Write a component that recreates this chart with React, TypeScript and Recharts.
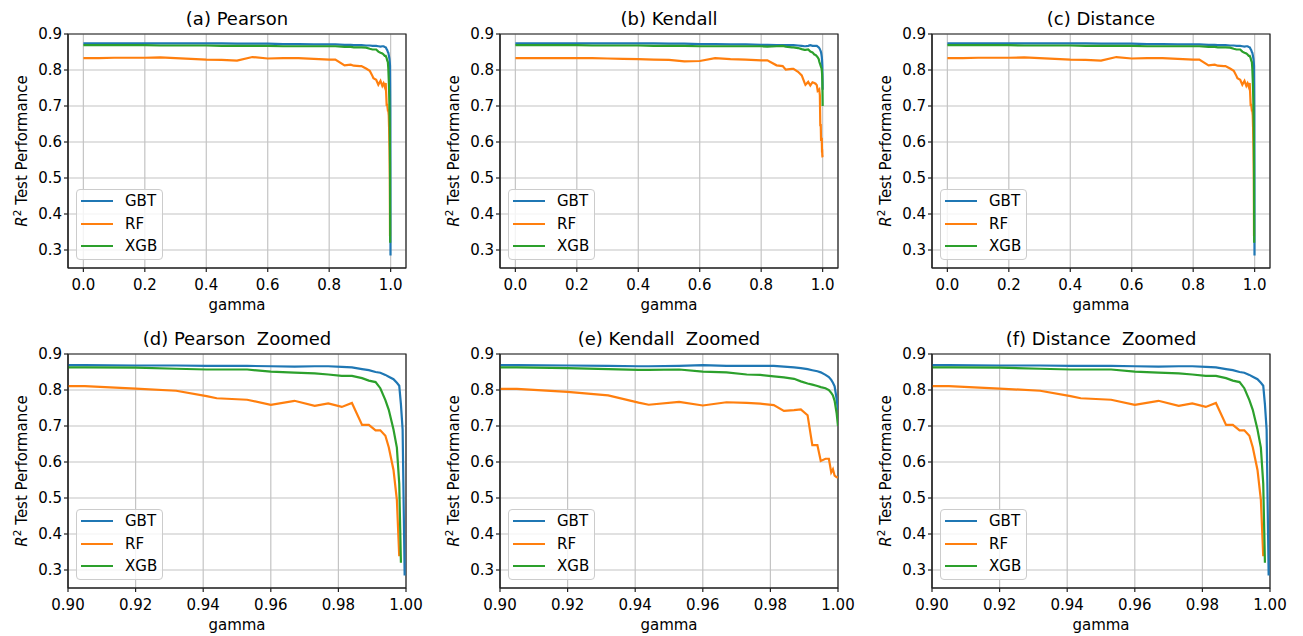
import React from 'react'
import { LineChart, Line, XAxis, YAxis, CartesianGrid, Legend, Label, ReferenceArea } from 'recharts'

// shared gamma grid (dense towards 1.0)
const gamma = [
  0, 0.05, 0.1, 0.15, 0.2, 0.25, 0.3, 0.35, 0.4, 0.45, 0.5, 0.55, 0.6, 0.65, 0.7, 0.75, 0.8,
  0.82, 0.85, 0.87, 0.88,
  0.9, 0.905, 0.92, 0.932, 0.941, 0.944, 0.953, 0.96, 0.967, 0.973, 0.977, 0.981, 0.984, 0.987, 0.989, 0.991,
  0.9924, 0.9939, 0.9949, 0.9963, 0.9973, 0.998, 0.9985, 0.999, 0.9996, 1.0,
]

const pearsonGBT = [
  0.874, 0.874, 0.874, 0.874, 0.874, 0.874, 0.874, 0.874, 0.874, 0.874, 0.873, 0.873, 0.873, 0.872, 0.872, 0.871, 0.871,
  0.871, 0.870, 0.870, 0.869,
  0.869, 0.869, 0.868, 0.868, 0.867, 0.867, 0.867, 0.866, 0.865, 0.866, 0.866, 0.864, 0.863, 0.858, 0.855, 0.850,
  0.848, 0.842, 0.837, 0.830, 0.820, 0.812, 0.760, 0.690, 0.285, null,
]
const pearsonRF = [
  0.833, 0.833, 0.834, 0.834, 0.834, 0.835, 0.833, 0.831, 0.829, 0.828, 0.826, 0.836, 0.832, 0.833, 0.833, 0.831, 0.829,
  0.829, 0.813, 0.815, 0.812,
  0.811, 0.811, 0.804, 0.798, 0.783, 0.777, 0.773, 0.759, 0.770, 0.756, 0.763, 0.753, 0.764, 0.703, 0.703, 0.688,
  0.688, 0.673, 0.641, 0.578, 0.495, 0.338, null, null, null, null,
]
const pearsonXGB = [
  0.869, 0.869, 0.869, 0.869, 0.869, 0.868, 0.868, 0.868, 0.868, 0.867, 0.867, 0.867, 0.867, 0.866, 0.866, 0.866, 0.866,
  0.866, 0.864, 0.864, 0.863,
  0.863, 0.863, 0.862, 0.859, 0.857, 0.857, 0.857, 0.851, 0.848, 0.846, 0.843, 0.839, 0.839, 0.833, 0.826, 0.822,
  0.805, 0.772, 0.745, 0.690, 0.640, 0.540, 0.320, null, null, null,
]

const kendallGBT = [
  0.874, 0.874, 0.874, 0.874, 0.874, 0.874, 0.874, 0.874, 0.874, 0.874, 0.873, 0.873, 0.872, 0.872, 0.871, 0.871, 0.870,
  0.870, 0.869, 0.869, 0.869,
  0.869, 0.869, 0.868, 0.867, 0.866, 0.866, 0.867, 0.869, 0.867, 0.867, 0.867, 0.867, 0.865, 0.863, 0.861, 0.858,
  0.855, 0.852, 0.849, 0.842, 0.836, 0.828, 0.820, 0.810, 0.775, 0.745,
]
const kendallRF = [
  0.833, 0.833, 0.833, 0.833, 0.833, 0.833, 0.832, 0.831, 0.830, 0.829, 0.828, 0.824, 0.825, 0.833, 0.830, 0.829, 0.827,
  0.827, 0.813, 0.811, 0.801,
  0.803, 0.803, 0.795, 0.785, 0.765, 0.759, 0.767, 0.757, 0.766, 0.764, 0.762, 0.758, 0.742, 0.744, 0.746, 0.730,
  0.647, 0.647, 0.603, 0.609, 0.609, 0.571, 0.580, 0.562, 0.558, 0.557,
]
const kendallXGB = [
  0.869, 0.869, 0.869, 0.869, 0.869, 0.868, 0.868, 0.868, 0.868, 0.867, 0.867, 0.867, 0.866, 0.866, 0.866, 0.866, 0.866,
  0.865, 0.866, 0.867, 0.865,
  0.863, 0.863, 0.861, 0.858, 0.856, 0.856, 0.857, 0.851, 0.849, 0.843, 0.842, 0.838, 0.835, 0.831, 0.824, 0.818,
  0.815, 0.811, 0.808, 0.805, 0.800, 0.792, 0.785, 0.770, 0.735, 0.700,
]

// distance curves read the same as pearson
const distanceGBT = [
  0.874, 0.874, 0.874, 0.874, 0.874, 0.874, 0.874, 0.874, 0.874, 0.874, 0.873, 0.873, 0.873, 0.872, 0.872, 0.871, 0.871,
  0.871, 0.870, 0.870, 0.869,
  0.869, 0.869, 0.868, 0.868, 0.867, 0.867, 0.867, 0.866, 0.865, 0.866, 0.866, 0.864, 0.863, 0.858, 0.855, 0.850,
  0.848, 0.842, 0.837, 0.830, 0.820, 0.812, 0.760, 0.690, 0.285, null,
]
const distanceRF = [
  0.833, 0.833, 0.834, 0.834, 0.834, 0.835, 0.833, 0.831, 0.829, 0.828, 0.826, 0.836, 0.832, 0.833, 0.833, 0.831, 0.829,
  0.829, 0.813, 0.815, 0.812,
  0.811, 0.811, 0.804, 0.798, 0.783, 0.777, 0.773, 0.759, 0.770, 0.756, 0.763, 0.753, 0.764, 0.703, 0.703, 0.688,
  0.688, 0.673, 0.641, 0.578, 0.495, 0.338, null, null, null, null,
]
const distanceXGB = [
  0.869, 0.869, 0.869, 0.869, 0.869, 0.868, 0.868, 0.868, 0.868, 0.867, 0.867, 0.867, 0.867, 0.866, 0.866, 0.866, 0.866,
  0.866, 0.864, 0.864, 0.863,
  0.863, 0.863, 0.862, 0.859, 0.857, 0.857, 0.857, 0.851, 0.848, 0.846, 0.843, 0.839, 0.839, 0.833, 0.826, 0.822,
  0.805, 0.772, 0.745, 0.690, 0.640, 0.540, 0.320, null, null, null,
]

const SERIES = [
  { key: 'GBT', color: '#1f77b4' },
  { key: 'RF', color: '#ff7f0e' },
  { key: 'XGB', color: '#2ca02c' },
]

const FULL_TICKS = [0, 0.2, 0.4, 0.6, 0.8, 1.0]
const ZOOM_TICKS = [0.9, 0.92, 0.94, 0.96, 0.98, 1.0]
const Y_TICKS = [0.3, 0.4, 0.5, 0.6, 0.7, 0.8, 0.9]
const Y_DOMAIN = [0.25, 0.9]

const FONT = '"DejaVu Sans", sans-serif'
const FS = 15
const TITLE_FS = 18
const SPINE = '#222'
const PLOT_H = 234

function buildRows(gbt: (number | null)[], rf: (number | null)[], xgb: (number | null)[]) {
  return gamma.map((g, i) => ({ gamma: g, GBT: gbt[i], RF: rf[i], XGB: xgb[i] }))
}

const pearsonRows = buildRows(pearsonGBT, pearsonRF, pearsonXGB)
const kendallRows = buildRows(kendallGBT, kendallRF, kendallXGB)
const distanceRows = buildRows(distanceGBT, distanceRF, distanceXGB)

const panels = [
  { title: '(a) Pearson', rows: pearsonRows, zoomed: false },
  { title: '(b) Kendall', rows: kendallRows, zoomed: false },
  { title: '(c) Distance', rows: distanceRows, zoomed: false },
  { title: '(d) Pearson  Zoomed', rows: pearsonRows, zoomed: true },
  { title: '(e) Kendall  Zoomed', rows: kendallRows, zoomed: true },
  { title: '(f) Distance  Zoomed', rows: distanceRows, zoomed: true },
]

function LegendBox() {
  return (
    <div
      style={{
        width: 85, height: 69, border: '1px solid #cccccc', borderRadius: 4,
        background: 'rgba(255,255,255,0.8)', position: 'relative',
        fontFamily: FONT, fontSize: FS, color: '#000', lineHeight: '20px',
      }}
    >
      {SERIES.map((s, i) => (
        <div
          key={s.key}
          style={{
            position: 'absolute', left: 4, top: 1 + Math.round(i * 22.5), height: 20,
            display: 'flex', alignItems: 'center',
          }}
        >
          <div style={{ width: 32, height: 2, background: s.color, marginRight: 12 }} />
          <span>{s.key}</span>
        </div>
      ))}
    </div>
  )
}

function Panel({ title, rows, zoomed, left, top, height }: any) {
  const xDomain = zoomed ? [0.9, 1.0] : [-0.05, 1.05]
  const bottom = height - 34 - PLOT_H - 30
  const tickStyle = { fontSize: FS, fill: '#000', fontFamily: FONT }
  const lineStyle = { stroke: SPINE, strokeWidth: 1.2 }

  return (
    <div style={{ position: 'absolute', left, top }}>
      <LineChart width={432} height={height} data={rows} margin={{ top: 34, right: 26, bottom, left: 8 }}>
        <CartesianGrid stroke="#c4c4c4" strokeWidth={1.2} />
        <XAxis
          dataKey="gamma"
          type="number"
          domain={xDomain}
          allowDataOverflow
          ticks={zoomed ? ZOOM_TICKS : FULL_TICKS}
          interval={0}
          tickFormatter={(v) => Number(v).toFixed(zoomed ? 2 : 1)}
          height={30}
          tickSize={4}
          tickMargin={7}
          tick={tickStyle}
          axisLine={lineStyle}
          tickLine={lineStyle}
        >
          <Label
            content={({ viewBox }: any) => {
              const cx = viewBox.x + viewBox.width / 2
              return (
                <g>
                  <text x={cx} y={viewBox.y + 42} textAnchor="middle"
                    fontSize={FS} fontFamily={FONT} fill="#000">gamma</text>
                  <text x={cx} y={viewBox.y - PLOT_H - 9} textAnchor="middle"
                    fontSize={TITLE_FS} fontFamily={FONT} fill="#000" style={{ whiteSpace: 'pre' }}>{title}</text>
                </g>
              )
            }}
          />
        </XAxis>
        <YAxis
          type="number"
          domain={Y_DOMAIN}
          allowDataOverflow
          ticks={Y_TICKS}
          interval={0}
          tickFormatter={(v) => Number(v).toFixed(1)}
          width={60}
          tickSize={4}
          tickMargin={2}
          tick={tickStyle}
          axisLine={lineStyle}
          tickLine={lineStyle}
        >
          <Label
            content={({ viewBox }: any) => {
              const cx = viewBox.x + viewBox.width - 41.5
              const cy = viewBox.y + viewBox.height / 2
              return (
                <text x={cx} y={cy} transform={`rotate(-90 ${cx} ${cy})`} textAnchor="middle"
                  fontSize={FS} fontFamily={FONT} fill="#000">
                  <tspan fontStyle="italic">R</tspan>
                  <tspan fontSize={10.5} dy={-6}>2</tspan>
                  <tspan dy={6}> Test Performance</tspan>
                </text>
              )
            }}
          />
        </YAxis>
        <ReferenceArea
          x1={xDomain[0]}
          x2={xDomain[1]}
          y1={Y_DOMAIN[0]}
          y2={Y_DOMAIN[1]}
          fill="none"
          fillOpacity={0}
          stroke={SPINE}
          strokeWidth={1.2}
          ifOverflow="visible"
        />
        <Legend
          layout="vertical"
          align="center"
          verticalAlign="middle"
          content={() => <LegendBox />}
          wrapperStyle={{ left: 76, top: 189, width: 87, height: 71 }}
        />
        {SERIES.map((s) => (
          <Line
            key={s.key}
            dataKey={s.key}
            name={s.key}
            type="linear"
            stroke={s.color}
            strokeWidth={2.2}
            dot={false}
            activeDot={false}
            connectNulls={false}
            isAnimationActive={false}
          />
        ))}
      </LineChart>
    </div>
  )
}

export default function App() {
  return (
    <div
      style={{
        position: 'absolute', left: 0, top: 0, width: 1303, height: 636,
        background: '#fff', fontFamily: FONT,
      }}
    >
      {panels.map((p, i) => {
        const col = i % 3
        const row = Math.floor(i / 3)
        return (
          <Panel
            key={p.title}
            {...p}
            left={col * 432}
            top={row === 0 ? 0 : 320}
            height={row === 0 ? 318 : 316}
          />
        )
      })}
    </div>
  )
}
